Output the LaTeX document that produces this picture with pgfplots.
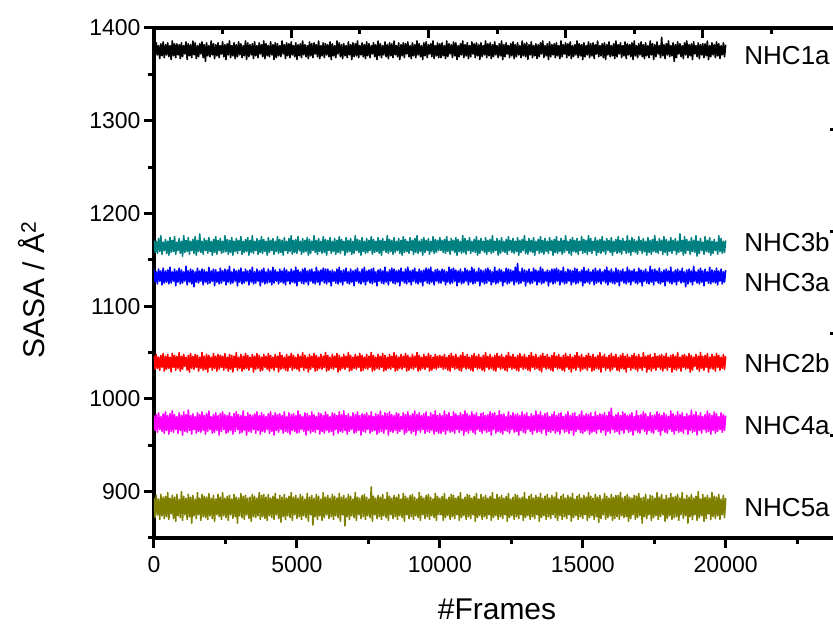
\documentclass[border=0pt]{standalone}
\usepackage{pgfplots}
\usepackage{pgfplotstable}
\usepackage{fontspec}
\setmainfont{Liberation Sans}
\pgfplotsset{compat=1.18}

\definecolor{cteal}{RGB}{0,128,128}
\definecolor{cblue}{RGB}{0,0,255}
\definecolor{cred}{RGB}{255,0,0}
\definecolor{cmag}{RGB}{255,0,255}
\definecolor{colive}{RGB}{128,128,0}

% SASA per frame (sampled every 40 frames)
\pgfplotstableread{
frame n1a n3b n3a n2b n4a n5a
0 1382 1171 1139 1046 982 893
40 1369 1158 1126 1032 966 872
80 1384 1170 1137 1048 983 896
120 1371 1157 1124 1033 964 875
160 1381 1173 1140 1045 985 892
200 1367 1159 1127 1031 967 870
240 1383 1176 1138 1047 981 897
280 1370 1156 1123 1034 965 874
320 1385 1169 1141 1049 984 894
360 1368 1160 1125 1030 963 871
400 1382 1172 1138 1046 986 895
440 1371 1157 1126 1032 966 873
480 1384 1170 1139 1048 982 899
520 1369 1155 1124 1033 962 870
560 1381 1174 1142 1045 984 893
600 1366 1158 1125 1029 965 876
640 1386 1171 1137 1049 987 896
680 1370 1159 1127 1034 964 871
720 1383 1175 1140 1047 983 894
760 1368 1156 1122 1031 967 868
800 1383 1169 1138 1046 981 897
840 1371 1160 1126 1033 963 874
880 1382 1173 1141 1050 985 892
920 1367 1157 1124 1030 966 872
960 1384 1170 1139 1046 982 900
1000 1369 1154 1125 1032 961 869
1040 1381 1176 1137 1048 986 895
1080 1372 1158 1127 1035 965 875
1120 1385 1171 1143 1045 983 893
1160 1366 1159 1123 1031 964 870
1200 1383 1174 1138 1047 988 897
1240 1370 1156 1126 1029 966 873
1280 1382 1170 1140 1049 982 894
1320 1368 1160 1124 1033 962 866
1360 1386 1172 1139 1046 984 896
1400 1371 1157 1121 1032 967 874
1440 1384 1175 1137 1048 981 892
1480 1367 1155 1126 1034 963 871
1520 1381 1171 1141 1047 985 899
1560 1369 1159 1125 1030 965 875
1600 1383 1178 1138 1045 983 893
1640 1372 1158 1127 1033 964 869
1680 1385 1170 1140 1050 986 897
1720 1368 1156 1123 1031 966 873
1760 1382 1173 1139 1046 982 895
1800 1364 1160 1126 1032 962 872
1840 1384 1171 1137 1048 984 894
1880 1370 1157 1124 1029 965 870
1920 1381 1174 1142 1047 987 898
1960 1369 1159 1125 1034 967 874
2000 1386 1170 1138 1045 981 893
2040 1371 1155 1127 1031 963 871
2080 1383 1172 1140 1049 983 896
2120 1367 1158 1122 1033 964 868
2160 1382 1175 1139 1046 985 892
2200 1370 1156 1126 1030 966 875
2240 1384 1171 1137 1048 982 897
2280 1368 1160 1124 1032 961 873
2320 1381 1173 1141 1047 984 894
2360 1372 1157 1125 1034 965 870
2400 1385 1170 1138 1046 986 899
2440 1369 1158 1127 1031 967 874
2480 1382 1176 1140 1049 983 893
2520 1366 1159 1123 1033 963 872
2560 1383 1172 1139 1045 982 895
2600 1371 1156 1126 1030 964 869
2640 1386 1171 1143 1048 985 896
2680 1368 1158 1124 1032 966 875
2720 1381 1174 1137 1047 981 892
2760 1370 1155 1125 1029 962 871
2800 1384 1170 1140 1046 984 897
2840 1367 1159 1127 1034 965 873
2880 1382 1173 1138 1050 986 894
2920 1369 1157 1122 1031 967 866
2960 1385 1171 1139 1045 983 893
3000 1371 1160 1126 1033 963 874
3040 1383 1175 1141 1048 982 898
3080 1368 1156 1124 1030 964 872
3120 1381 1170 1137 1046 987 895
3160 1370 1158 1125 1032 966 870
3200 1386 1172 1140 1049 981 896
3240 1366 1159 1127 1033 961 875
3280 1384 1174 1138 1047 985 893
3320 1369 1155 1123 1031 965 871
3360 1382 1171 1139 1045 983 894
3400 1371 1158 1126 1034 964 868
3440 1383 1176 1142 1048 982 897
3480 1367 1157 1124 1029 967 873
3520 1385 1170 1137 1046 984 895
3560 1370 1160 1125 1032 963 872
3600 1381 1173 1140 1049 986 893
3640 1368 1156 1127 1033 966 874
3680 1384 1171 1138 1047 982 899
3720 1372 1158 1122 1030 962 870
3760 1382 1175 1139 1045 985 896
3800 1369 1157 1126 1031 965 873
3840 1386 1172 1141 1048 983 897
3880 1367 1159 1124 1034 964 871
3920 1383 1170 1137 1046 981 894
3960 1370 1155 1125 1032 967 869
4000 1381 1174 1140 1049 984 897
4040 1369 1158 1126 1030 963 874
4080 1385 1171 1138 1047 986 893
4120 1371 1160 1123 1033 965 872
4160 1382 1173 1142 1045 982 895
4200 1366 1156 1125 1031 961 870
4240 1384 1170 1139 1048 985 898
4280 1368 1159 1127 1034 966 875
4320 1383 1175 1137 1046 983 892
4360 1370 1157 1124 1029 964 871
4400 1381 1172 1140 1050 984 896
4440 1369 1158 1126 1032 967 867
4480 1386 1171 1138 1047 982 894
4520 1372 1155 1125 1033 963 873
4560 1382 1174 1141 1045 986 897
4600 1367 1160 1123 1031 965 870
4640 1384 1170 1139 1048 981 893
4680 1370 1157 1127 1030 964 874
4720 1383 1173 1137 1046 985 895
4760 1368 1159 1124 1034 962 872
4800 1385 1176 1140 1049 983 899
4840 1371 1156 1126 1031 966 869
4880 1381 1171 1138 1047 984 894
4920 1369 1158 1125 1033 965 875
4960 1384 1172 1142 1045 982 896
5000 1366 1157 1122 1032 963 871
5040 1382 1175 1139 1048 987 893
5080 1370 1160 1127 1030 964 873
5120 1383 1170 1137 1046 983 897
5160 1368 1156 1125 1034 967 870
5200 1386 1173 1140 1050 981 895
5240 1371 1158 1124 1031 965 874
5280 1382 1171 1141 1047 985 892
5320 1369 1159 1126 1033 961 872
5360 1381 1174 1138 1045 984 898
5400 1367 1155 1123 1029 966 868
5440 1385 1172 1139 1048 982 894
5480 1370 1157 1127 1032 963 875
5520 1383 1170 1140 1046 986 896
5560 1368 1160 1125 1034 965 864
5600 1384 1176 1137 1049 983 893
5640 1372 1158 1124 1030 964 873
5680 1382 1171 1142 1047 981 897
5720 1369 1156 1126 1031 967 870
5760 1386 1173 1138 1045 985 895
5800 1367 1159 1123 1033 962 874
5840 1381 1170 1139 1048 984 892
5880 1370 1157 1127 1032 965 869
5920 1384 1175 1141 1046 982 899
5960 1368 1158 1125 1034 963 872
6000 1383 1172 1140 1050 986 894
6040 1371 1155 1124 1030 966 875
6080 1382 1171 1140 1047 983 896
6120 1369 1160 1126 1031 964 871
6160 1385 1174 1138 1045 981 893
6200 1366 1157 1122 1033 965 873
6240 1383 1170 1139 1048 985 897
6280 1370 1159 1127 1032 961 870
6320 1381 1173 1137 1046 984 895
6360 1368 1156 1125 1034 967 874
6400 1386 1171 1140 1049 982 893
6440 1372 1158 1124 1029 963 872
6480 1384 1175 1142 1047 986 898
6520 1369 1157 1126 1031 965 868
6560 1382 1172 1138 1045 983 894
6600 1367 1160 1123 1033 964 875
6640 1383 1170 1139 1048 987 896
6680 1370 1155 1127 1032 966 863
6720 1381 1174 1141 1046 982 893
6760 1368 1158 1125 1034 962 873
6800 1385 1171 1137 1050 984 897
6840 1371 1159 1124 1030 965 870
6880 1382 1173 1140 1047 981 895
6920 1366 1156 1126 1031 967 874
6960 1384 1170 1138 1045 985 892
7000 1369 1157 1122 1033 963 872
7040 1383 1176 1139 1048 983 899
7080 1370 1160 1127 1032 964 869
7120 1386 1172 1141 1046 986 894
7160 1368 1158 1125 1034 966 875
7200 1381 1171 1137 1049 982 893
7240 1371 1155 1124 1030 961 871
7280 1384 1174 1140 1047 984 896
7320 1369 1159 1126 1031 965 873
7360 1382 1170 1142 1045 983 897
7400 1367 1157 1123 1033 964 870
7440 1385 1173 1138 1048 985 894
7480 1370 1158 1127 1032 967 874
7520 1383 1171 1139 1046 982 892
7560 1368 1160 1125 1034 963 872
7600 1381 1175 1140 1050 986 905
7640 1372 1156 1124 1030 965 868
7680 1384 1172 1141 1047 981 895
7720 1369 1158 1126 1031 966 875
7760 1382 1170 1137 1045 984 893
7800 1366 1159 1122 1033 962 871
7840 1386 1174 1139 1048 983 896
7880 1370 1157 1127 1032 964 873
7920 1383 1171 1140 1046 987 894
7960 1368 1155 1125 1034 965 870
8000 1381 1173 1138 1049 982 897
8040 1371 1160 1124 1030 963 874
8080 1385 1170 1142 1047 985 892
8120 1369 1158 1126 1031 967 872
8160 1382 1176 1137 1045 984 899
8200 1367 1157 1123 1033 961 869
8240 1384 1172 1139 1048 986 895
8280 1370 1159 1127 1032 965 875
8320 1383 1171 1141 1046 983 893
8360 1368 1156 1125 1034 964 871
8400 1386 1174 1140 1050 982 896
8440 1371 1158 1124 1030 966 873
8480 1381 1170 1138 1047 985 894
8520 1369 1160 1126 1031 963 870
8560 1384 1173 1139 1045 984 897
8600 1366 1157 1122 1033 965 874
8640 1382 1171 1141 1048 981 892
8680 1370 1155 1127 1032 967 872
8720 1384 1175 1137 1046 985 898
8760 1368 1158 1125 1034 962 868
8800 1383 1172 1140 1049 983 895
8840 1372 1159 1124 1030 964 875
8880 1385 1170 1142 1047 986 893
8920 1369 1157 1126 1031 966 871
8960 1381 1174 1138 1045 982 896
9000 1367 1160 1123 1033 963 873
9040 1384 1171 1139 1048 984 897
9080 1370 1156 1127 1032 965 870
9120 1382 1173 1141 1046 987 894
9160 1368 1158 1125 1034 961 874
9200 1386 1176 1137 1050 983 892
9240 1371 1157 1124 1030 966 872
9280 1383 1170 1140 1047 985 899
9320 1369 1159 1126 1031 964 869
9360 1381 1172 1138 1045 982 895
9400 1366 1155 1122 1033 967 875
9440 1384 1174 1139 1048 984 893
9480 1370 1158 1127 1032 963 871
9520 1385 1171 1141 1046 986 896
9560 1368 1160 1125 1034 965 873
9600 1382 1173 1140 1049 981 897
9640 1372 1156 1124 1030 964 870
9680 1383 1170 1142 1047 985 894
9720 1369 1159 1126 1031 966 874
9760 1386 1175 1137 1045 983 892
9800 1367 1157 1123 1033 962 872
9840 1381 1172 1139 1048 987 898
9880 1370 1158 1127 1032 965 869
9920 1384 1171 1140 1046 982 895
9960 1368 1160 1125 1034 963 875
10000 1383 1174 1138 1047 984 893
10040 1368 1160 1125 1034 963 875
10080 1384 1171 1140 1046 982 895
10120 1370 1158 1127 1032 965 869
10160 1381 1172 1139 1048 987 898
10200 1367 1157 1123 1033 962 872
10240 1386 1175 1137 1045 983 892
10280 1369 1159 1126 1031 966 874
10320 1383 1170 1142 1047 985 894
10360 1372 1156 1124 1030 964 870
10400 1382 1173 1140 1049 981 897
10440 1368 1160 1125 1034 965 873
10480 1385 1171 1141 1046 986 896
10520 1370 1158 1127 1032 963 871
10560 1384 1174 1139 1048 984 893
10600 1366 1155 1122 1033 967 875
10640 1381 1172 1138 1045 982 895
10680 1369 1159 1126 1031 964 869
10720 1383 1170 1140 1047 985 899
10760 1371 1157 1124 1030 966 872
10800 1386 1176 1137 1050 983 892
10840 1368 1158 1125 1034 961 874
10880 1382 1173 1141 1046 987 894
10920 1370 1156 1127 1032 965 870
10960 1384 1171 1139 1048 984 897
11000 1367 1160 1123 1033 963 873
11040 1381 1174 1138 1045 982 896
11080 1369 1157 1126 1031 966 871
11120 1385 1170 1142 1047 986 893
11160 1372 1159 1124 1030 964 875
11200 1383 1172 1140 1049 983 895
11240 1368 1158 1125 1034 962 868
11280 1384 1175 1137 1046 985 898
11320 1370 1155 1127 1032 967 872
11360 1382 1171 1141 1048 981 892
11400 1366 1157 1122 1033 965 874
11440 1384 1173 1139 1045 984 897
11480 1369 1160 1126 1031 963 870
11520 1381 1170 1138 1047 985 894
11560 1371 1158 1124 1030 966 873
11600 1386 1174 1140 1050 982 896
11640 1368 1156 1125 1034 964 871
11680 1383 1171 1141 1046 983 893
11720 1370 1159 1127 1032 965 875
11760 1384 1172 1139 1048 986 895
11800 1367 1157 1123 1033 961 869
11840 1382 1176 1137 1045 984 899
11880 1369 1158 1126 1031 967 872
11920 1385 1170 1142 1047 985 892
11960 1371 1160 1124 1030 963 874
12000 1381 1173 1138 1049 982 897
12040 1368 1155 1125 1034 965 870
12080 1383 1171 1140 1046 987 894
12120 1370 1157 1127 1032 964 873
12160 1386 1174 1139 1048 983 896
12200 1366 1159 1122 1033 962 871
12240 1382 1170 1137 1045 984 893
12280 1369 1158 1126 1031 966 875
12320 1384 1172 1141 1047 981 895
12360 1372 1156 1124 1030 965 868
12400 1381 1175 1140 1050 986 898
12440 1368 1160 1125 1034 963 872
12480 1383 1171 1139 1046 982 892
12520 1370 1158 1127 1032 967 874
12560 1385 1173 1138 1048 985 894
12600 1367 1157 1123 1033 964 870
12640 1382 1170 1142 1045 983 897
12680 1369 1159 1126 1031 965 873
12720 1384 1174 1146 1047 984 896
12760 1371 1155 1124 1030 961 871
12800 1381 1171 1137 1049 982 893
12840 1368 1158 1125 1034 966 875
12880 1386 1172 1141 1046 986 894
12920 1370 1160 1127 1032 964 869
12960 1383 1176 1139 1048 983 899
13000 1369 1157 1122 1033 963 872
13040 1384 1170 1138 1045 985 892
13080 1366 1156 1126 1031 967 874
13120 1382 1173 1140 1047 981 895
13160 1371 1159 1124 1030 965 870
13200 1385 1171 1137 1050 984 897
13240 1368 1158 1125 1034 962 873
13280 1381 1174 1141 1046 982 893
13320 1370 1155 1127 1032 966 871
13360 1383 1170 1139 1048 987 896
13400 1367 1160 1123 1033 964 875
13440 1382 1172 1138 1045 983 894
13480 1369 1157 1126 1031 965 868
13520 1384 1175 1142 1047 986 898
13560 1372 1158 1124 1029 963 872
13600 1386 1171 1140 1049 982 893
13640 1368 1156 1125 1034 967 874
13680 1381 1173 1137 1046 984 895
13720 1370 1159 1127 1032 961 870
13760 1383 1170 1139 1048 985 897
13800 1366 1157 1122 1033 965 873
13840 1385 1174 1138 1045 981 893
13880 1369 1160 1126 1031 964 871
13920 1382 1171 1140 1047 983 896
13960 1371 1155 1124 1030 966 875
14000 1383 1172 1140 1050 986 894
14040 1368 1158 1125 1034 963 872
14080 1384 1175 1141 1046 982 899
14120 1370 1157 1127 1032 965 869
14160 1381 1170 1139 1048 984 892
14200 1367 1159 1123 1033 962 874
14240 1386 1173 1138 1045 985 895
14280 1369 1156 1126 1031 967 870
14320 1382 1171 1142 1047 981 897
14360 1372 1158 1124 1030 964 873
14400 1384 1176 1137 1049 983 893
14440 1368 1160 1125 1034 965 871
14480 1383 1170 1140 1046 986 896
14520 1370 1157 1127 1032 963 875
14560 1385 1172 1139 1048 982 894
14600 1367 1155 1123 1029 966 868
14640 1381 1174 1138 1045 984 898
14680 1369 1159 1126 1033 961 872
14720 1382 1171 1141 1047 985 892
14760 1371 1158 1124 1031 965 874
14800 1386 1173 1140 1050 981 895
14840 1368 1156 1125 1034 967 870
14880 1383 1170 1137 1046 983 897
14920 1370 1160 1127 1030 964 873
14960 1382 1175 1139 1048 987 893
15000 1366 1157 1122 1032 963 871
15040 1384 1172 1142 1045 982 896
15080 1369 1158 1125 1033 965 875
15120 1381 1171 1138 1047 984 894
15160 1371 1156 1126 1031 966 869
15200 1385 1176 1140 1049 983 899
15240 1368 1159 1124 1034 962 872
15280 1383 1173 1137 1046 985 895
15320 1370 1157 1127 1030 964 874
15360 1384 1170 1139 1048 981 893
15400 1367 1160 1123 1031 965 870
15440 1382 1174 1141 1045 986 897
15480 1372 1155 1125 1033 963 873
15520 1386 1171 1138 1047 982 894
15560 1369 1158 1126 1032 967 867
15600 1381 1172 1140 1050 984 896
15640 1370 1157 1124 1029 964 871
15680 1383 1175 1137 1046 983 892
15720 1368 1159 1127 1034 966 875
15760 1384 1170 1139 1048 985 898
15800 1366 1156 1125 1031 961 870
15840 1382 1173 1142 1045 982 895
15880 1371 1160 1123 1033 965 872
15920 1385 1171 1138 1047 986 893
15960 1369 1158 1126 1030 963 874
16000 1381 1174 1140 1049 990 897
16040 1370 1155 1125 1032 967 869
16080 1383 1170 1137 1046 981 894
16120 1367 1159 1124 1034 964 871
16160 1386 1172 1141 1048 983 896
16200 1369 1157 1126 1031 965 873
16240 1382 1175 1139 1045 985 896
16280 1372 1158 1122 1030 962 870
16320 1384 1171 1138 1047 982 899
16360 1368 1156 1127 1033 966 874
16400 1381 1173 1140 1049 986 893
16440 1370 1160 1125 1032 963 872
16480 1385 1170 1137 1046 984 895
16520 1367 1157 1124 1029 967 873
16560 1383 1176 1142 1048 982 897
16600 1371 1158 1126 1034 964 868
16640 1382 1171 1139 1045 983 894
16680 1369 1155 1123 1031 965 871
16720 1384 1174 1138 1047 985 893
16760 1366 1159 1127 1033 961 875
16800 1386 1172 1140 1049 981 896
16840 1370 1158 1125 1032 966 870
16880 1381 1170 1137 1046 987 895
16920 1368 1156 1124 1030 964 872
16960 1383 1175 1141 1048 982 898
17000 1371 1160 1126 1033 963 874
17040 1385 1171 1139 1045 983 893
17080 1369 1157 1122 1031 967 866
17120 1382 1173 1138 1050 986 894
17160 1367 1159 1127 1034 965 873
17200 1384 1170 1140 1046 984 897
17240 1370 1155 1125 1029 962 871
17280 1381 1174 1137 1047 981 892
17320 1368 1158 1124 1032 966 875
17360 1386 1171 1143 1048 985 896
17400 1371 1156 1126 1030 964 869
17440 1383 1172 1139 1045 982 895
17480 1366 1159 1123 1033 963 872
17520 1382 1176 1140 1049 983 893
17560 1369 1158 1127 1031 967 874
17600 1385 1170 1138 1046 986 899
17640 1372 1157 1125 1034 965 870
17680 1381 1173 1141 1047 984 894
17720 1368 1160 1124 1032 961 873
17760 1390 1171 1137 1048 982 897
17800 1370 1156 1126 1030 966 875
17840 1382 1175 1139 1046 985 892
17880 1367 1158 1122 1033 964 868
17920 1383 1172 1140 1049 983 896
17960 1371 1155 1127 1031 963 871
18000 1386 1170 1138 1045 981 893
18040 1369 1159 1125 1034 967 874
18080 1381 1174 1142 1047 987 898
18120 1370 1157 1124 1029 965 870
18160 1384 1171 1137 1048 984 894
18200 1364 1160 1126 1032 962 872
18240 1382 1173 1139 1046 982 895
18280 1368 1156 1123 1031 966 873
18320 1385 1170 1140 1050 986 897
18360 1372 1158 1127 1033 964 869
18400 1383 1178 1138 1045 983 893
18440 1369 1159 1125 1030 965 875
18480 1381 1171 1141 1047 985 899
18520 1367 1155 1126 1034 963 871
18560 1384 1175 1137 1048 981 892
18600 1371 1157 1121 1032 967 874
18640 1386 1172 1139 1046 984 896
18680 1368 1160 1124 1033 962 866
18720 1382 1170 1140 1049 982 894
18760 1370 1156 1126 1029 966 873
18800 1383 1174 1138 1047 988 897
18840 1366 1159 1123 1031 964 870
18880 1385 1171 1143 1045 983 893
18920 1372 1158 1127 1035 965 875
18960 1381 1176 1137 1048 986 895
19000 1369 1154 1125 1032 961 869
19040 1384 1170 1139 1046 982 900
19080 1367 1157 1124 1030 966 872
19120 1382 1173 1141 1050 985 892
19160 1371 1160 1126 1033 963 874
19200 1383 1169 1138 1046 981 897
19240 1368 1156 1122 1031 967 868
19280 1383 1175 1140 1047 983 894
19320 1370 1159 1127 1034 964 871
19360 1386 1171 1137 1049 987 896
19400 1366 1158 1125 1029 965 876
19440 1381 1174 1142 1045 984 893
19480 1369 1155 1124 1033 962 870
19520 1384 1170 1139 1048 982 899
19560 1371 1157 1126 1032 966 873
19600 1382 1172 1138 1046 986 895
19640 1368 1160 1125 1030 963 871
19680 1385 1169 1141 1049 984 894
19720 1370 1156 1123 1034 965 874
19760 1383 1176 1138 1047 981 897
19800 1367 1159 1127 1031 967 870
19840 1381 1173 1140 1045 985 892
19880 1371 1157 1124 1033 964 875
19920 1384 1170 1137 1048 983 896
19960 1369 1158 1126 1032 966 872
20000 1382 1171 1139 1046 982 893
}\sasa

\pgfplotsset{
  frame axis/.style={
    at={(154pt,88pt)}, anchor=south west,
    scale only axis, width=686pt, height=510pt,
    separate axis lines,
    axis line style={line width=3.2pt, black},
    tick style={line width=3pt, black},
    major tick style={line width=3pt, black},
    minor tick style={line width=3pt, black},
    major tick length=10pt, minor tick length=6pt,
    scaled ticks=false,
  },
}

\begin{document}
\begin{tikzpicture}
\useasboundingbox (0,0) rectangle (833pt,626pt);

% secondary frame: top and right axes with inward ticks
\begin{axis}[frame axis,
  xmin=0, xmax=25000, ymin=0, ymax=5,
  xtick={0,5000,...,25000}, minor xtick={2500,7500,...,22500},
  ytick={0,1,...,5}, minor ytick={0.5,1.5,...,4.5},
  xtick pos=top, ytick pos=right, tick align=inside,
  xticklabels={}, yticklabels={},
]
\end{axis}

\begin{axis}[frame axis,
  xmin=0, xmax=24000, ymin=850, ymax=1400,
  xtick={0,5000,...,20000}, minor xtick={2500,7500,...,22500},
  ytick={900,1000,...,1400}, minor ytick={850,950,...,1350},
  xtick pos=bottom, ytick pos=left, tick align=outside,
  /pgf/number format/assume math mode=true,
  /pgf/number format/1000 sep={},
  ticklabel style={font=\fontsize{23}{27}\selectfont},
  xticklabel style={yshift=-5pt},
  xlabel={\#Frames}, ylabel={SASA / Å\textsuperscript{2}},
  every axis x label/.style={at={(axis description cs:0.5,0)}, anchor=base, yshift=-82pt,
    font=\fontsize{30}{36}\selectfont},
  every axis y label/.style={at={(axis description cs:-0.159,0.486)}, rotate=90, anchor=base,
    font=\fontsize{30}{36}\selectfont},
  every axis plot/.append style={line width=1.6pt, line join=round, no markers},
]
\addplot[black]  table[x=frame, y=n1a] {\sasa};
\addplot[cteal]  table[x=frame, y=n3b] {\sasa};
\addplot[cblue]  table[x=frame, y=n3a] {\sasa};
\addplot[cred]   table[x=frame, y=n2b] {\sasa};
\addplot[cmag]   table[x=frame, y=n4a] {\sasa};
\addplot[colive] table[x=frame, y=n5a] {\sasa};

\begin{scope}[every node/.style={anchor=west, inner sep=0pt, font=\fontsize{26}{31}\selectfont}]
\node at (axis cs:20650,1370) {NHC1a};
\node at (axis cs:20650,1169) {NHC3b};
\node at (axis cs:20650,1126) {NHC3a};
\node at (axis cs:20650,1039) {NHC2b};
\node at (axis cs:20650,971) {NHC4a};
\node at (axis cs:20650,883) {NHC5a};
\end{scope}
\end{axis}
\end{tikzpicture}
\end{document}
